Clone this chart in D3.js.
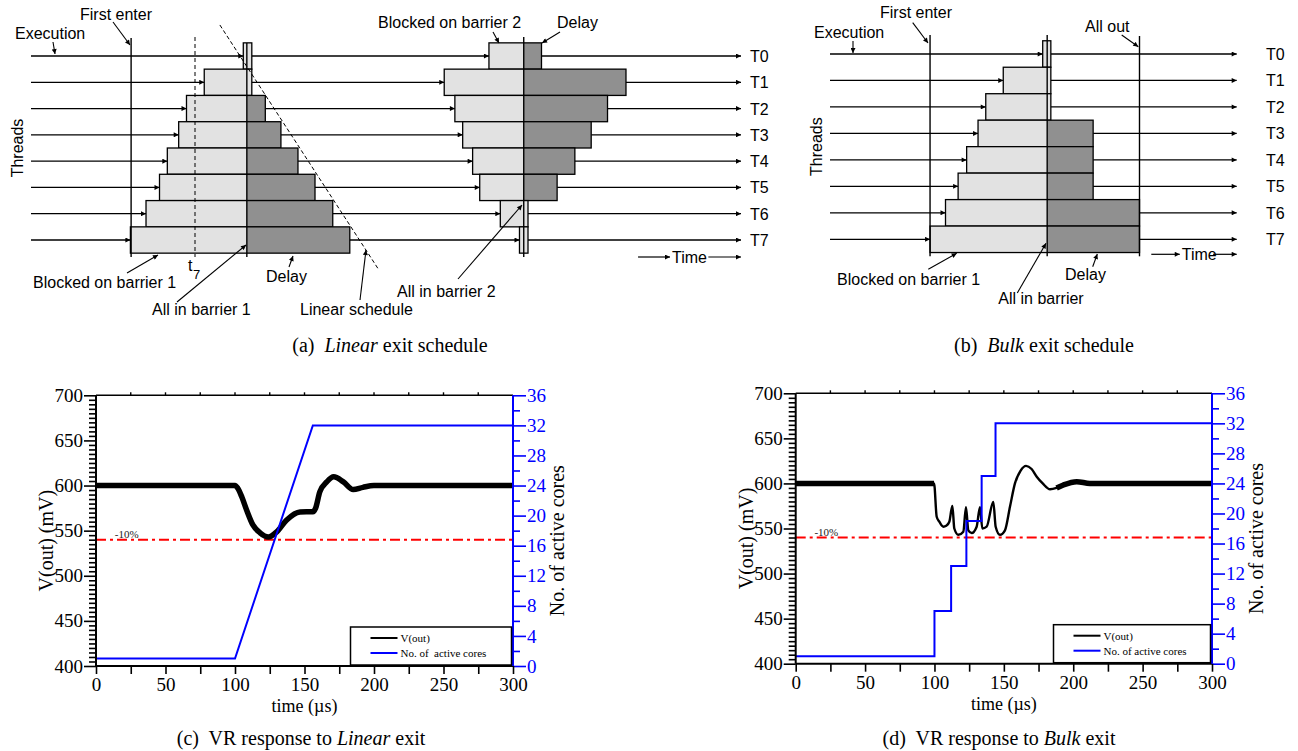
<!DOCTYPE html>
<html>
<head>
<meta charset="utf-8">
<script src="https://cdn.jsdelivr.net/npm/d3@7"></script>
<style>
  body { margin: 0; background: #fff; }
  .sans { font-family: "Liberation Sans", Arial, sans-serif; font-size: 16px; }
  .serif { font-family: "Liberation Serif", "Times New Roman", serif; }
</style>
</head>
<body>
<svg id="fig" width="1298" height="751"></svg>
<script>
// ---------- data ----------
const threads = ["T0", "T1", "T2", "T3", "T4", "T5", "T6", "T7"];

// (a) linear exit schedule, time in arbitrary units 0..100
const linFirstEnter = 14.1, linT7 = 23.1;
const linBarrier1 = 30.4, linBarrier2 = 69.4;
const linEnter1 = [29.9, 24.4, 21.9, 20.8, 19.2, 18.1, 16.2, 14.0];
const linExit1  = [31.1, 31.1, 33.0, 35.2, 37.6, 40.0, 42.5, 44.9];
const linEnter2 = [64.5, 58.2, 59.7, 60.8, 62.2, 63.2, 66.1, 68.8];
const linExit2  = [71.9, 83.8, 81.2, 78.9, 76.6, 74.1, 70.0, 70.0];
const linSchedule = [[26.6, -1.18], [49.0, 8.14]];   // [time, thread row]

// (b) bulk exit schedule
const bulkFirstEnter = 24.6, bulkBarrier = 53.4, bulkAllOut = 76.1;
const bulkEnter = [52.3, 42.6, 38.3, 36.4, 33.6, 31.5, 28.4, 24.6];
const bulkExit  = [54.3, 54.3, 54.3, 64.7, 64.7, 64.7, 76.1, 76.1];

// (c)/(d) VR response
const timeTicks = [0, 50, 100, 150, 200, 250, 300];
const voltTicks = [400, 450, 500, 550, 600, 650, 700];
const coreTicks = [0, 4, 8, 12, 16, 20, 24, 28, 32, 36];
const vLimit = 540;

const linVoutT = [0, 100, 102, 105, 108.4, 113, 118, 124, 130, 137, 146.8, 156, 158, 161, 166, 171, 178, 185, 192, 200, 300];
const linVoutV = [600, 600, 597, 587, 572.7, 556, 547.6, 543, 548.7, 561.6, 570.8, 571, 575, 593, 604, 609.6, 604, 595.5, 598, 600, 600];
const linCoresT = [0, 100, 156, 300];
const linCoresN = [1, 1, 32, 32];

const bulkVoutT = [0, 99.7, 101.6, 103.5, 106.4, 108.5, 110.7, 112.9, 114.3, 117.2, 120.8, 122.7, 124.4, 126.8, 130.4, 132.8, 134.5, 137.6, 142.4, 144.1, 147.2, 150.8, 154.4, 158, 162, 166, 170, 173.7, 178, 183.3, 188, 192.9, 202.5, 212, 300];
const bulkVoutV = [600, 600, 563, 557.5, 552, 553, 557.5, 575, 550, 543, 546.5, 573.5, 548, 545, 552, 573.5, 550, 552, 579.5, 552, 543, 548, 574, 600, 614, 619.5, 616, 607.5, 600, 593.5, 595, 598.3, 602, 600, 600];
const bulkCoresT = [0, 100, 112, 123, 134, 144, 300];
const bulkCoresN = [1, 7, 13, 19, 25, 32, 32];

// ---------- drawing ----------
const svg = d3.select("#fig");
const lightFill = "#e2e2e2", darkFill = "#909090";

svg.append("defs").append("marker")
    .attr("id", "ah")
    .attr("viewBox", "0 0 10 10")
    .attr("refX", 10).attr("refY", 5)
    .attr("markerWidth", 7).attr("markerHeight", 5)
    .attr("markerUnits", "userSpaceOnUse")
    .attr("orient", "auto")
  .append("path")
    .attr("d", "M0,0L10,5L0,10z")
    .attr("fill", "#000");

function arrow(g, x1, y1, x2, y2, w) {
  g.append("line")
      .attr("x1", x1).attr("y1", y1).attr("x2", x2).attr("y2", y2)
      .attr("stroke", "#000").attr("stroke-width", w || 1.2)
      .attr("marker-end", "url(#ah)");
}

function label(g, txt, x, y) {
  g.append("text").attr("class", "sans").attr("x", x).attr("y", y).text(txt);
}

function drawSchedule(c) {
  const g = svg.append("g");
  const x = d3.scaleLinear().domain([0, 100]).range(c.xRange);
  const y = d3.scaleLinear().domain([0, 7]).range(c.yRange);
  const half = (y(1) - y(0)) / 2;

  // thread arrows between boxes
  threads.forEach((t, i) => {
    const stops = [0];
    c.phases.forEach(p => { stops.push(p.enter[i], p.exit[i]); });
    stops.push(100);
    for (let k = 0; k < stops.length; k += 2) {
      arrow(g, x(stops[k]), y(i), x(stops[k + 1]), y(i), 1.3);
    }
  });

  // blocked / delay boxes
  c.phases.forEach(p => {
    const rows = g.selectAll(null).data(threads).enter().append("g");
    rows.append("rect")
        .attr("x", (d, i) => x(p.enter[i]))
        .attr("y", (d, i) => y(i) - half)
        .attr("width", (d, i) => x(p.barrier) - x(p.enter[i]))
        .attr("height", 2 * half)
        .attr("fill", lightFill);
    rows.append("rect")
        .attr("x", x(p.barrier))
        .attr("y", (d, i) => y(i) - half)
        .attr("width", (d, i) => x(p.exit[i]) - x(p.barrier))
        .attr("height", 2 * half)
        .attr("fill", (d, i) => (p.exit[i] - p.barrier < 2 ? lightFill : darkFill));
    rows.append("rect")
        .attr("x", (d, i) => x(p.enter[i]))
        .attr("y", (d, i) => y(i) - half)
        .attr("width", (d, i) => x(p.exit[i]) - x(p.enter[i]))
        .attr("height", 2 * half)
        .attr("fill", "none")
        .attr("stroke", "#000")
        .attr("stroke-width", 1.3);
  });

  // vertical markers
  c.vlines.forEach(v => {
    g.append("line")
        .attr("x1", x(v.t)).attr("x2", x(v.t))
        .attr("y1", y(0) - v.up).attr("y2", y(7) + 17)
        .attr("stroke", "#000")
        .attr("stroke-width", v.dash ? 1 : 1.4)
        .attr("stroke-dasharray", v.dash ? "4,3" : null);
  });

  if (c.schedule) {
    g.append("line")
        .attr("x1", x(c.schedule[0][0])).attr("y1", y(c.schedule[0][1]))
        .attr("x2", x(c.schedule[1][0])).attr("y2", y(c.schedule[1][1]))
        .attr("stroke", "#000").attr("stroke-width", 1)
        .attr("stroke-dasharray", "4,2.5");
  }

  // thread labels
  g.selectAll(null).data(threads).enter().append("text")
      .attr("class", "sans")
      .attr("x", c.tLabelX)
      .attr("y", (d, i) => y(i) + 6)
      .text(d => d);

  // time arrow
  const ty = y(7) + c.timeDy;
  arrow(g, x(c.timeArrow[0]), ty, x(c.timeArrow[1]), ty, 1.2);
  label(g, "Time", x(c.timeArrow[1]) + 2, ty + 5.5);
  arrow(g, x(c.timeArrow[2]), ty, x(100), ty, 1.2);

  g.append("text").attr("class", "sans")
      .attr("transform", `translate(${c.threadsX},${(y(0) + y(7)) / 2}) rotate(-90)`)
      .attr("text-anchor", "middle")
      .text("Threads");

  c.notes.forEach(n => {
    label(g, n.text, n.x, n.y);
    if (n.arrow) arrow(g, ...n.arrow, 1.1);
  });
  return g;
}

const gA = drawSchedule({
  xRange: [31, 741], yRange: [56, 240],
  phases: [
    { enter: linEnter1, barrier: linBarrier1, exit: linExit1 },
    { enter: linEnter2, barrier: linBarrier2, exit: linExit2 }
  ],
  vlines: [
    { t: linFirstEnter, up: 18 },
    { t: linT7, up: 19, dash: true },
    { t: linBarrier1, up: 13 },
    { t: linBarrier2, up: 19 }
  ],
  schedule: linSchedule,
  tLabelX: 750, timeDy: 17, timeArrow: [85.5, 90.0, 95.4], threadsX: 23,
  notes: [
    { text: "First enter", x: 80, y: 20, arrow: [113, 22, 130, 45] },
    { text: "Execution", x: 15, y: 39, arrow: [53, 42, 55, 54] },
    { text: "Blocked on barrier 1", x: 33, y: 288, arrow: [127, 273, 158, 255] },
    { text: "Delay", x: 266, y: 282, arrow: [289, 267, 293, 256] },
    { text: "All in barrier 1", x: 152, y: 315, arrow: [177, 302, 246, 245] },
    { text: "Linear schedule", x: 300, y: 315, arrow: [360, 300, 366, 250] },
    { text: "All in barrier 2", x: 397, y: 297, arrow: [458, 279, 522, 205] },
    { text: "Blocked on barrier 2", x: 378, y: 28, arrow: [493, 32, 499, 43] },
    { text: "Delay", x: 557, y: 28, arrow: [560, 32, 542, 43] }
  ]
});
// t7 marker
gA.append("text").attr("class", "sans").attr("x", 188).attr("y", 271).text("t");
gA.append("text").attr("class", "sans").attr("x", 193).attr("y", 279).style("font-size", "13px").text("7");

drawSchedule({
  xRange: [830, 1236.7], yRange: [54, 239.3],
  phases: [{ enter: bulkEnter, barrier: bulkBarrier, exit: bulkExit }],
  vlines: [
    { t: bulkFirstEnter, up: 19 },
    { t: bulkBarrier, up: 19 },
    { t: bulkAllOut, up: 18 }
  ],
  tLabelX: 1266, timeDy: 15, timeArrow: [79.0, 86.0, 94.2], threadsX: 822,
  notes: [
    { text: "First enter", x: 880, y: 18, arrow: [912.7, 22.7, 928, 43] },
    { text: "Execution", x: 814, y: 38, arrow: [853, 41, 853, 53] },
    { text: "All out", x: 1085, y: 31.5, arrow: [1121.7, 35, 1138.3, 46.7] },
    { text: "Blocked on barrier 1", x: 837, y: 285, arrow: [928.3, 269.3, 956.7, 253.3] },
    { text: "Delay", x: 1065, y: 280, arrow: [1092.7, 266.7, 1097.3, 254] },
    { text: "All in barrier", x: 998.3, y: 304, arrow: [1017.3, 293, 1046, 243.3] }
  ]
});

// ---------- VR response charts ----------
function styleAxis(ax, color, fs) {
  ax.attr("font-family", null).attr("font-size", null);
  ax.select(".domain").remove();
  ax.selectAll("line").attr("stroke", color).attr("stroke-width", 1.6);
  ax.selectAll("text").attr("class", "serif").attr("fill", color).style("font-size", fs + "px");
}

function drawVR(c) {
  const g = svg.append("g");
  const x = d3.scaleLinear().domain([0, 300]).range([c.left, c.right]);
  const yV = d3.scaleLinear().domain([400, 700]).range([c.bottom, c.top]);
  const yN = d3.scaleLinear().domain([0, 36]).range([c.bottom, c.top]);
  const blue = "#0000ff";

  // top border with short ticks
  g.append("line").attr("x1", c.left).attr("x2", c.right).attr("y1", c.top).attr("y2", c.top)
      .attr("stroke", "#000").attr("stroke-width", 1.6);
  g.selectAll(null).data(d3.range(25, 300, 25)).enter().append("line")
      .attr("x1", d => x(d)).attr("x2", d => x(d))
      .attr("y1", c.top).attr("y2", c.top - 3)
      .attr("stroke", "#000").attr("stroke-width", 1.4);

  // left axis
  styleAxis(g.append("g").attr("transform", `translate(${c.left},0)`)
      .call(d3.axisLeft(yV).tickValues(d3.range(400, 701, 5).filter(v => v % 50)).tickSize(7).tickFormat("")), "#000", 19);
  styleAxis(g.append("g").attr("transform", `translate(${c.left},0)`)
      .call(d3.axisLeft(yV).tickValues(voltTicks).tickSize(12).tickPadding(1)), "#000", 19);
  // right axis
  styleAxis(g.append("g").attr("transform", `translate(${c.right},0)`)
      .call(d3.axisRight(yN).tickValues(d3.range(2, 36, 4)).tickSize(7).tickFormat("")), blue, 19);
  styleAxis(g.append("g").attr("transform", `translate(${c.right},0)`)
      .call(d3.axisRight(yN).tickValues(coreTicks).tickSize(13).tickPadding(1)), blue, 19);
  // bottom axis
  styleAxis(g.append("g").attr("transform", `translate(0,${c.bottom})`)
      .call(d3.axisBottom(x).tickValues(d3.range(25, 300, 50)).tickSize(8).tickFormat("")), "#000", 19);
  styleAxis(g.append("g").attr("transform", `translate(0,${c.bottom})`)
      .call(d3.axisBottom(x).tickValues(timeTicks).tickSize(8).tickPadding(4)), "#000", 19);

  // -10% limit
  g.append("line")
      .attr("x1", x(0)).attr("x2", x(300)).attr("y1", yV(vLimit)).attr("y2", yV(vLimit))
      .attr("stroke", "#ff0000").attr("stroke-width", 2)
      .attr("stroke-dasharray", "10,4,3,4");
  g.append("text").attr("class", "serif").attr("x", x(13.5)).attr("y", yV(vLimit) - 1.5)
      .style("font-size", "11px").attr("fill", "#222").text("-10%");

  // V(out)
  const vPts = c.voutT.map((t, i) => [t, c.voutV[i]]);
  const vLine = d3.line().x(d => x(d[0])).y(d => yV(d[1])).curve(d3.curveMonotoneX);
  g.append("path").datum(vPts).attr("d", vLine)
      .attr("fill", "none").attr("stroke", "#000").attr("stroke-width", c.vWidth)
      .attr("stroke-linejoin", "round");
  c.rippleParts.forEach(([a, b]) => {
    g.append("path").datum(vPts.filter(d => d[0] >= a && d[0] <= b)).attr("d", vLine)
        .attr("fill", "none").attr("stroke", "#000").attr("stroke-width", 5.5)
        .attr("stroke-linejoin", "round");
  });

  // active cores
  const nPts = c.coresT.map((t, i) => [t, c.coresN[i]]);
  g.append("path").datum(nPts)
      .attr("d", d3.line().x(d => x(d[0])).y(d => yN(d[1])).curve(c.step ? d3.curveStepAfter : d3.curveLinear))
      .attr("fill", "none").attr("stroke", blue).attr("stroke-width", 2);

  // axis lines on top
  g.append("line").attr("x1", c.left).attr("x2", c.left).attr("y1", c.top).attr("y2", c.bottom)
      .attr("stroke", "#000").attr("stroke-width", 2);
  g.append("line").attr("x1", c.left).attr("x2", c.right).attr("y1", c.bottom).attr("y2", c.bottom)
      .attr("stroke", "#000").attr("stroke-width", 2);
  g.append("line").attr("x1", c.right).attr("x2", c.right).attr("y1", c.top).attr("y2", c.bottom)
      .attr("stroke", blue).attr("stroke-width", 2);

  // legend
  const lx = c.right - c.legendW - 1.5, ly = c.bottom - 39;
  g.append("rect").attr("x", lx).attr("y", ly).attr("width", c.legendW).attr("height", 38)
      .attr("fill", "#fff").attr("stroke", "#000").attr("stroke-width", 1.5);
  [["V(out)", "#000", 11], [c.coresLabel, blue, 26]].forEach(([t, col, dy]) => {
    g.append("line").attr("x1", lx + 20).attr("x2", lx + 47).attr("y1", ly + dy).attr("y2", ly + dy)
        .attr("stroke", col).attr("stroke-width", 2);
    g.append("text").attr("class", "serif").attr("x", lx + 50).attr("y", ly + dy + 4)
        .style("font-size", "11px").attr("xml:space", "preserve").text(t);
  });

  // axis titles
  g.append("text").attr("class", "serif").attr("text-anchor", "middle")
      .attr("x", (c.left + c.right) / 2).attr("y", c.bottom + 46)
      .style("font-size", "18px").text("time (\u00b5s)");
  g.append("text").attr("class", "serif").attr("text-anchor", "middle")
      .attr("transform", `translate(${c.left - 43},${(c.top + c.bottom) / 2 + 10}) rotate(-90)`)
      .style("font-size", "20px").text("V(out) (mV)");
  g.append("text").attr("class", "serif").attr("text-anchor", "middle")
      .attr("transform", `translate(${c.right + 51},${(c.top + c.bottom) / 2 + 10}) rotate(-90)`)
      .style("font-size", "20px").text("No. of active cores");
}

drawVR({
  left: 96, right: 513, top: 395.3, bottom: 666,
  voutT: linVoutT, voutV: linVoutV, vWidth: 5.5, rippleParts: [],
  coresT: linCoresT, coresN: linCoresN, step: false,
  legendW: 161, coresLabel: "No. of  active cores"
});
drawVR({
  left: 795.7, right: 1212, top: 393.3, bottom: 663.7,
  voutT: bulkVoutT, voutV: bulkVoutV, vWidth: 2.4, rippleParts: [[0, 100], [185, 300]],
  coresT: bulkCoresT, coresN: bulkCoresN, step: true,
  legendW: 157, coresLabel: "No. of active cores"
});

// ---------- captions ----------
function caption(x, y, parts) {
  const t = svg.append("text").attr("class", "serif").attr("x", x).attr("y", y)
      .attr("text-anchor", "middle").style("font-size", "20px").attr("xml:space", "preserve");
  parts.forEach(([s, it]) => {
    t.append("tspan").style("font-style", it ? "italic" : "normal").text(s);
  });
}
caption(390, 352, [["(a)  ", 0], ["Linear", 1], [" exit schedule", 0]]);
caption(1044, 352, [["(b)  ", 0], ["Bulk", 1], [" exit schedule", 0]]);
caption(301, 745, [["(c)  VR response to ", 0], ["Linear", 1], [" exit", 0]]);
caption(999, 745, [["(d)  VR response to ", 0], ["Bulk", 1], [" exit", 0]]);
</script>
</body>
</html>
